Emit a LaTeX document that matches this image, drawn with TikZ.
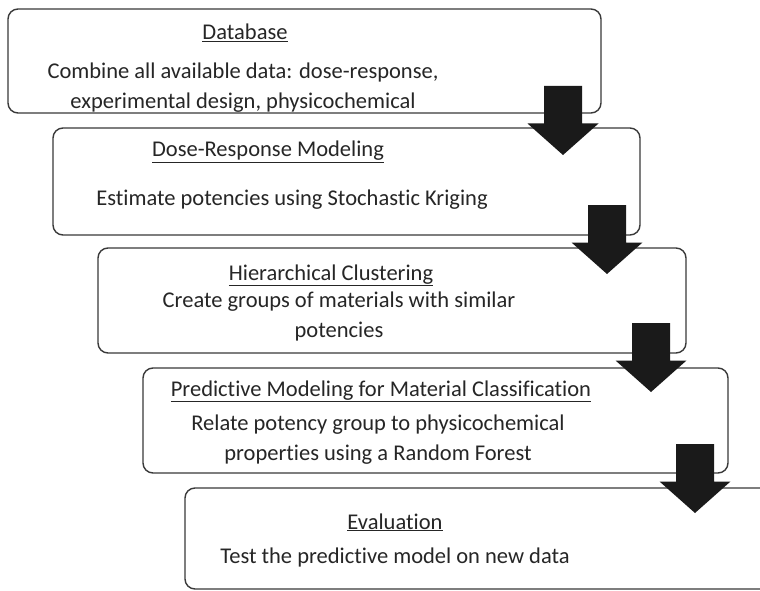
\documentclass[tikz,border=0pt]{standalone}
\usepackage{fontspec}
\setmainfont[Ligatures=CommonOff]{Carlito}
\definecolor{boxline}{HTML}{3A3A3A}
\definecolor{txt}{HTML}{262626}
\definecolor{arrowfill}{HTML}{1A1A1A}
\tikzset{
  stagebox/.style={draw=boxline, line width=1.4pt, rounded corners=10pt, fill=white, inner sep=0pt},
  stagetitle/.style={text=txt, font=\fontsize{22.5}{29}\selectfont, inner sep=0pt, anchor=base},
  stagebody/.style={text=txt, font=\fontsize{22.5}{29.5}\selectfont, inner sep=0pt, align=center, anchor=base},
  blockarrow/.style={fill=arrowfill, draw=none}
}
\newcommand{\bigdownarrow}[2]{%
  \fill[blockarrow] (#1-19,#2) -- (#1+19,#2) -- (#1+19,#2+37.5) -- (#1+35.5,#2+37.5)
    -- (#1,#2+69) -- (#1-35.5,#2+37.5) -- (#1-19,#2+37.5) -- cycle;}
\begin{document}
\begin{tikzpicture}[x=1pt,y=-1pt]
\useasboundingbox (0,0) rectangle (760,591);
\clip (0,0) rectangle (760,591);
\fill[white] (0,0) rectangle (760,591);
% boxes
\node[stagebox, minimum width=593pt, minimum height=104pt] (b1) at (304.5,61) {};
\node[stagebox, minimum width=587pt, minimum height=107pt] (b2) at (346.5,181.5) {};
\node[stagebox, minimum width=588pt, minimum height=105pt] (b3) at (392,300.5) {};
\node[stagebox, minimum width=585pt, minimum height=105pt] (b4) at (435.5,420.5) {};
\node[stagebox, minimum width=600pt, minimum height=101pt] (b5) at (485,538.5) {};
% texts (anchor base = baseline of the last line)
\node[stagetitle] (t1) at (245,40) {\underline{Database}};
\node[stagebody] (d1) at (243,108.5) {Combine all available data: dose-response,\\experimental design, physicochemical};
\node[stagetitle] (t2) at (268,157) {\underline{Dose-Response Modeling}};
\node[stagebody] (d2) at (292,205) {Estimate potencies using Stochastic Kriging};
\node[stagetitle] (t3) at (331,280) {\underline{Hierarchical Clustering}};
\node[stagebody] (d3) at (339,337) {Create groups of materials with similar\\potencies};
\node[stagetitle] (t4) at (381,396) {\underline{Predictive Modeling for Material Classification}};
\node[stagebody] (d4) at (378,460) {Relate potency group to physicochemical\\properties using a Random Forest};
\node[stagetitle] (t5) at (395,529) {\underline{Evaluation}};
\node[stagebody] (d5) at (395,563) {Test the predictive model on new data};
% arrows
\bigdownarrow{563}{86}
\bigdownarrow{607}{205}
\bigdownarrow{651}{323}
\bigdownarrow{695}{444}
\end{tikzpicture}
\end{document}
